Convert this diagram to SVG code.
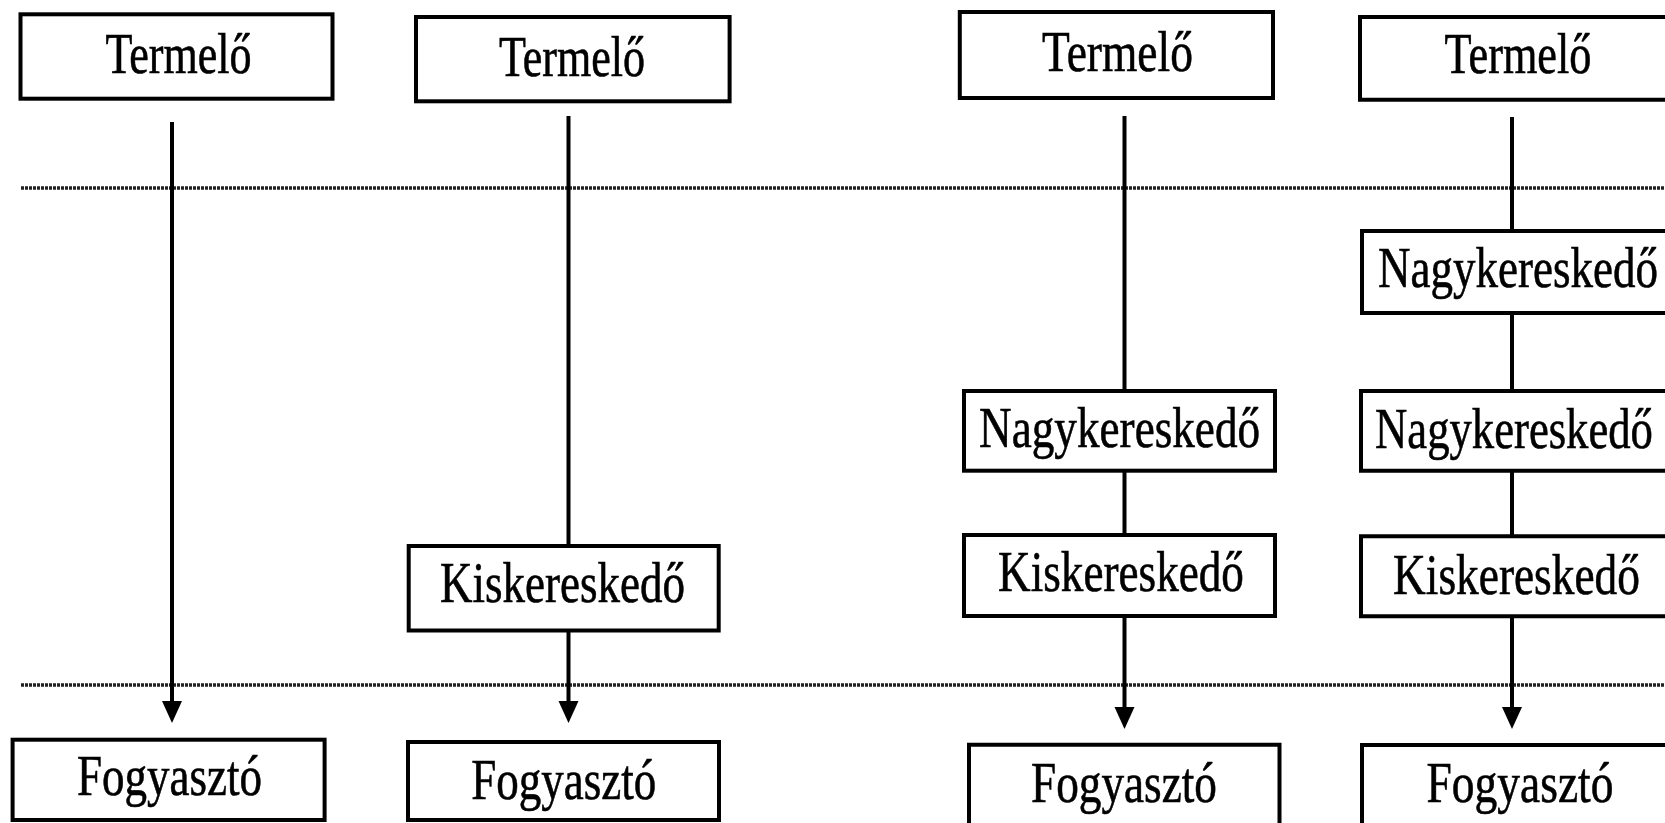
<svg xmlns="http://www.w3.org/2000/svg" width="1665" height="823" viewBox="0 0 1665 823">
<style>
.box{fill:#fff;stroke:#000;stroke-width:4}
.lbl{font-family:"Liberation Serif","Times New Roman",serif;font-size:56px;fill:#000;stroke:#000;stroke-width:0.6;text-anchor:middle}
.con{stroke:#000;stroke-width:4;fill:none}
.sep{stroke:#222;stroke-width:3.5;stroke-dasharray:3 1;fill:none}
</style>
<defs>
<marker id="ah" markerUnits="userSpaceOnUse" markerWidth="22" markerHeight="22" refX="0" refY="10" orient="auto">
<path d="M0,0 L22,10 L0,20 z" fill="#000"/>
</marker>
</defs>
<rect width="1665" height="823" fill="#fff"/>
<g id="separators">
<line class="sep" x1="21" y1="188" x2="1665" y2="188"/>
<line class="sep" x1="21" y1="685" x2="1665" y2="685"/>
</g>
<g id="connectors">
<line class="con" x1="172" y1="122" x2="172" y2="701" marker-end="url(#ah)"/>
<line class="con" x1="568.5" y1="116" x2="568.5" y2="546"/>
<line class="con" x1="568.5" y1="631" x2="568.5" y2="701" marker-end="url(#ah)"/>
<line class="con" x1="1124.5" y1="116" x2="1124.5" y2="391"/>
<line class="con" x1="1124.5" y1="471" x2="1124.5" y2="535"/>
<line class="con" x1="1124.5" y1="616" x2="1124.5" y2="707" marker-end="url(#ah)"/>
<line class="con" x1="1512" y1="117" x2="1512" y2="231"/>
<line class="con" x1="1512" y1="313" x2="1512" y2="391"/>
<line class="con" x1="1512" y1="471" x2="1512" y2="536"/>
<line class="con" x1="1512" y1="616" x2="1512" y2="707" marker-end="url(#ah)"/>
</g>
<g id="termelo1"><rect class="box" x="20.5" y="14.3" width="312" height="84.4"/><text class="lbl" transform="translate(178.5 72.7) scale(0.787 1)">Termelő</text></g>
<g id="fogyaszto1"><rect class="box" x="12.6" y="739.7" width="312" height="80.3"/><text class="lbl" transform="translate(169.4 795) scale(0.804 1)">Fogyasztó</text></g>
<g id="termelo2"><rect class="box" x="416" y="17" width="313.6" height="84.3"/><text class="lbl" transform="translate(572 76) scale(0.787 1)">Termelő</text></g>
<g id="kisker2"><rect class="box" x="408.7" y="546" width="310" height="84.5"/><text class="lbl" transform="translate(562.5 601.7) scale(0.804 1)">Kiskereskedő</text></g>
<g id="fogyaszto2"><rect class="box" x="408" y="742" width="311" height="78"/><text class="lbl" transform="translate(563.7 799.3) scale(0.804 1)">Fogyasztó</text></g>
<g id="termelo3"><rect class="box" x="959.8" y="12" width="313.2" height="86"/><text class="lbl" transform="translate(1117.5 70.7) scale(0.812 1)">Termelő</text></g>
<g id="nagyker3"><rect class="box" x="964" y="391" width="311" height="79.7"/><text class="lbl" transform="translate(1119.6 446.5) scale(0.807 1)">Nagykereskedő</text></g>
<g id="kisker3"><rect class="box" x="964" y="535" width="311" height="81"/><text class="lbl" transform="translate(1121 591) scale(0.807 1)">Kiskereskedő</text></g>
<g id="fogyaszto3"><path class="box" d="M1279.5,823 V744.7 H969 V823"/><text class="lbl" transform="translate(1124 801.7) scale(0.808 1)">Fogyasztó</text></g>
<g id="termelo4"><path class="box" d="M1665,17 H1360 V99.7 H1665"/><text class="lbl" transform="translate(1518 72.7) scale(0.791 1)">Termelő</text></g>
<g id="nagyker4a"><path class="box" d="M1665,231 H1362 V313 H1665"/><text class="lbl" transform="translate(1518 287.3) scale(0.804 1)">Nagykereskedő</text></g>
<g id="nagyker4b"><path class="box" d="M1665,391 H1361 V470.7 H1665"/><text class="lbl" transform="translate(1514 447.7) scale(0.798 1)">Nagykereskedő</text></g>
<g id="kisker4"><path class="box" d="M1665,536.3 H1361 V616.3 H1665"/><text class="lbl" transform="translate(1516.5 594.3) scale(0.81 1)">Kiskereskedő</text></g>
<g id="fogyaszto4"><path class="box" d="M1665,745 H1362 V823"/><text class="lbl" transform="translate(1520 801.7) scale(0.812 1)">Fogyasztó</text></g>
</svg>
